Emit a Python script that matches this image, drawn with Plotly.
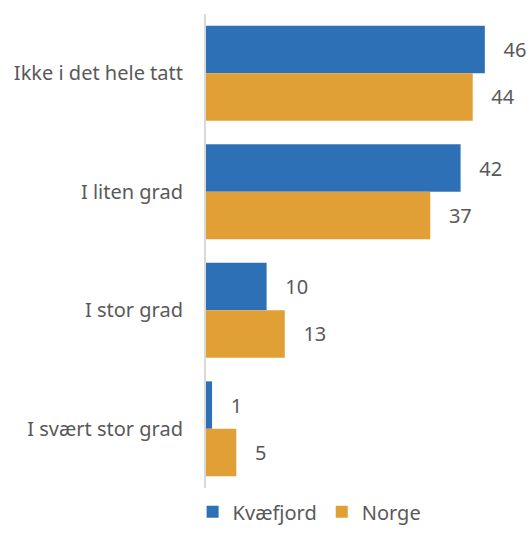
import plotly.graph_objects as go

categories = ['Ikke i det hele tatt', 'I liten grad', 'I stor grad', 'I svært stor grad']
kvaefjord = [46, 42, 10, 1]
norge = [44, 37, 13, 5]

BLUE = '#2E70B6'
ORANGE = '#E0A035'
GREY = '#595959'
FONT = 'Noto Sans'

fig = go.Figure()
for name, vals, col in [('Kvæfjord', kvaefjord, BLUE), ('Norge', norge, ORANGE)]:
    fig.add_trace(go.Bar(
        y=categories, x=vals, name=name, orientation='h',
        marker=dict(color=col, line=dict(width=0)),
        text=vals, texttemplate='   %{x}', textposition='outside',
        textfont=dict(size=20, color=GREY, family=FONT),
        constraintext='none', cliponaxis=False,
    ))

fig.update_layout(
    width=531, height=534,
    margin=dict(l=206, r=11, t=14, b=46, autoexpand=False),
    plot_bgcolor='white', paper_bgcolor='white',
    barmode='group', bargap=0.2, bargroupgap=0,
    font=dict(family=FONT, size=20, color=GREY),
    showlegend=True,
    legend=dict(orientation='h', x=0.33, xanchor='center', yref='container', y=0.005, yanchor='bottom',
                font=dict(size=20, color=GREY), traceorder='normal', itemwidth=30),
    xaxis=dict(range=[0, 51.8], showgrid=False, zeroline=False, showticklabels=False,
               automargin=False, fixedrange=True),
    yaxis=dict(autorange='reversed', showline=True, linecolor='#D9D9D9', linewidth=2,
               showgrid=False, ticks='', ticklabelstandoff=17, automargin=False,
               tickfont=dict(size=20, color=GREY, family=FONT)),
)

# the page's default body margin would shift the figure by 8px
fig.write_html('out.html', config={'displayModeBar': False},
               post_script="document.body.style.margin='0';")
